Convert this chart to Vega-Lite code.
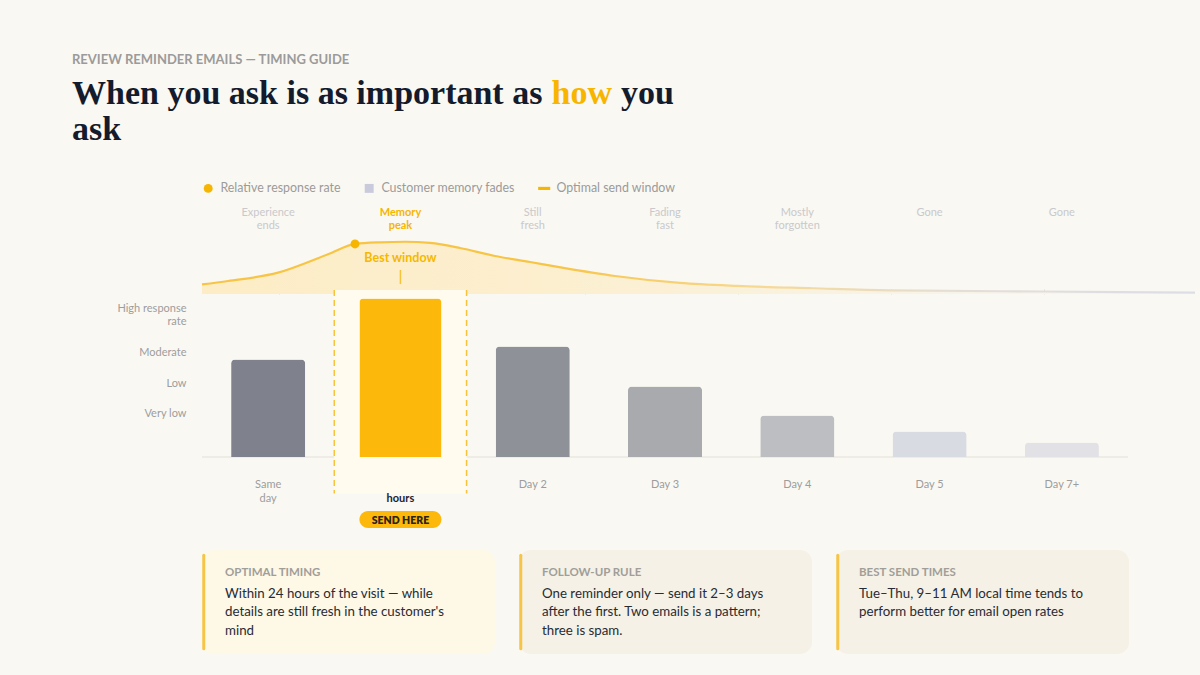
{
  "$schema": "https://vega.github.io/schema/vega-lite/v6.json",
  "background": "#faf8f2",
  "padding": {"left": 72, "top": 54, "right": 0, "bottom": 22},
  "title": {"text": "REVIEW REMINDER EMAILS — TIMING GUIDE", "anchor": "start", "frame": "bounds", "font": "Lato", "fontSize": 13, "fontWeight": 700, "color": "#9b9b9b", "offset": 10},
  "resolve": {"legend": {"color": "independent", "shape": "independent"}},
  "datasets": {
    "days": [
      {"day": "Same day", "stage": "Experience ends", "rate": 61},
      {"day": "24 hours", "stage": "Memory peak", "rate": 99},
      {"day": "Day 2", "stage": "Still fresh", "rate": 69},
      {"day": "Day 3", "stage": "Fading fast", "rate": 44},
      {"day": "Day 4", "stage": "Mostly forgotten", "rate": 26},
      {"day": "Day 5", "stage": "Gone", "rate": 16},
      {"day": "Day 7+", "stage": "Gone", "rate": 9}
    ],
    "memory": [
      {"t": 0.0, "memory": 18.3},
      {"t": 0.17, "memory": 25.0},
      {"t": 0.497, "memory": 41.0},
      {"t": 0.824, "memory": 76.3},
      {"t": 1.0, "memory": 96.2, "peak": true},
      {"t": 1.163, "memory": 99.4},
      {"t": 1.327, "memory": 100.4},
      {"t": 1.49, "memory": 98.1},
      {"t": 1.686, "memory": 88.5},
      {"t": 1.915, "memory": 73.1},
      {"t": 2.144, "memory": 61.5},
      {"t": 2.353, "memory": 50.6},
      {"t": 2.699, "memory": 34.6},
      {"t": 3.124, "memory": 21.2},
      {"t": 3.497, "memory": 15.4},
      {"t": 3.993, "memory": 11.0},
      {"t": 4.497, "memory": 7.1},
      {"t": 5.497, "memory": 4.8},
      {"t": 6.49, "memory": 2.5}
    ],
    "series": []
  },
  "spacing": 24,
  "vconcat": [
    {
      "spacing": 8.5,
      "hconcat": [
        {"width": 1, "height": 11, "title": {"text": "When you ask is as important as", "subtitle": "ask", "anchor": "start", "frame": "group", "dx": -130, "offset": 0, "font": "Liberation Serif", "fontSize": 34, "fontWeight": 700, "color": "#131b2d", "subtitleFont": "Liberation Serif", "subtitleFontSize": 34, "subtitleFontWeight": 700, "subtitleColor": "#131b2d", "subtitlePadding": 2}, "data": {"values": []}, "mark": "rule", "encoding": {}},
        {"width": 1, "height": 11, "title": {"text": "how", "subtitle": " ", "anchor": "start", "frame": "group", "offset": 0, "font": "Liberation Serif", "fontSize": 34, "fontWeight": 700, "color": "#f7b500", "subtitleFont": "Liberation Serif", "subtitleFontSize": 34, "subtitleFontWeight": 700, "subtitleColor": "#131b2d", "subtitlePadding": 2}, "data": {"values": []}, "mark": "rule", "encoding": {}},
        {"width": 1, "height": 11, "title": {"text": "you", "subtitle": " ", "anchor": "start", "frame": "group", "offset": 0, "font": "Liberation Serif", "fontSize": 34, "fontWeight": 700, "color": "#131b2d", "subtitleFont": "Liberation Serif", "subtitleFontSize": 34, "subtitleFontWeight": 700, "subtitleColor": "#131b2d", "subtitlePadding": 2}, "data": {"values": []}, "mark": "rule", "encoding": {}}
      ]
    },
    {
      "spacing": 21,
      "vconcat": [
        {
          "width": 926,
          "height": 256,
          "resolve": {"scale": {"x": "independent", "y": "independent"}},
          "layer": [
            {
              "data": {"name": "memory"},
              "encoding": {
                "x": {"field": "t", "type": "quantitative", "scale": {"domain": [0, 6.052], "nice": false, "zero": false}, "axis": {"orient": "top", "offset": -93, "values": [0.5, 1.5, 2.5, 3.5, 4.5, 5.5, 6.5], "labels": false, "domain": false, "ticks": true, "tickSize": 5, "tickColor": "#e6dfcc", "grid": false, "title": null}},
                "y": {"field": "memory", "type": "quantitative", "scale": {"domain": [-313.5, 178.8], "nice": false, "zero": false}, "axis": null}
              },
              "layer": [
                {"mark": {"type": "area", "interpolate": "monotone", "color": {"x1": 0, "y1": 0, "x2": 1, "y2": 0, "gradient": "linear", "stops": [{"offset": 0, "color": "#fcedc6"}, {"offset": 0.35, "color": "#fcefcf"}, {"offset": 0.7, "color": "#f9f3e5"}, {"offset": 1, "color": "#f8f6f1"}]}}, "encoding": {"y2": {"datum": 0}}},
                {"mark": {"type": "line", "interpolate": "monotone", "strokeWidth": 2.2, "stroke": {"x1": 0, "y1": 0, "x2": 1, "y2": 0, "gradient": "linear", "stops": [{"offset": 0, "color": "#f8c445"}, {"offset": 0.35, "color": "#f7c444"}, {"offset": 0.55, "color": "#f7d88f"}, {"offset": 0.75, "color": "#e4ded6"}, {"offset": 1, "color": "#dddde8"}]}}},
                {"transform": [{"filter": "datum.peak === true"}], "mark": {"type": "point", "filled": true, "size": 80, "color": "#f6b500", "opacity": 1}}
              ]
            },
            {
              "data": {"name": "days"},
              "layer": [
                {"data": {"values": [{}]}, "mark": {"type": "rule", "color": "#e3e0d8", "strokeWidth": 1}, "encoding": {"y": {"datum": 0}}},
                {"transform": [{"filter": "datum.day == '24 hours'"}], "mark": {"type": "rect", "color": "#fffbee"},
                 "encoding": {"x": {"field": "day", "type": "nominal", "scale": {"type": "band", "domain": ["Same day", "24 hours", "Day 2", "Day 3", "Day 4", "Day 5", "Day 7+"], "paddingInner": 0, "paddingOuter": 0}}, "y": {"datum": 104.4}, "y2": {"datum": -22.8}}},
                {"transform": [{"filter": "datum.day == '24 hours'"}], "mark": {"type": "rule", "color": "#f6c33a", "strokeWidth": 1.5, "strokeDash": [6, 4]},
                 "encoding": {"x": {"field": "day", "type": "nominal", "bandPosition": 0}, "y": {"datum": 104.4}, "y2": {"datum": -22.8}}},
                {"transform": [{"filter": "datum.day == '24 hours'"}], "mark": {"type": "rule", "color": "#f6c33a", "strokeWidth": 1.5, "strokeDash": [6, 4]},
                 "encoding": {"x": {"field": "day", "type": "nominal", "bandPosition": 1}, "y": {"datum": 104.4}, "y2": {"datum": -22.8}}},
                {"transform": [{"filter": "datum.day != '24 hours'"}], "mark": {"type": "bar", "width": {"band": 0.56}, "cornerRadiusTopLeft": 4, "cornerRadiusTopRight": 4},
                 "encoding": {
                   "x": {"field": "day", "type": "nominal", "scale": {"type": "band", "domain": ["Same day", "24 hours", "Day 2", "Day 3", "Day 4", "Day 5", "Day 7+"], "paddingInner": 0, "paddingOuter": 0},
                         "axis": {"orient": "bottom", "title": null, "ticks": false, "tickSize": 0, "domain": false, "grid": false, "labelAngle": 0, "labelAlign": "center", "labelPadding": 21, "labelFont": "Lato", "labelFontSize": 11, "labelLineHeight": 14, "labelBaseline": "top",
                                  "labelColor": {"condition": {"test": "datum.value == '24 hours'", "value": "#1b2233"}, "value": "#9d9d9d"},
                                  "labelFontWeight": {"condition": {"test": "datum.value == '24 hours'", "value": 700}, "value": 400},
                                  "labelExpr": "datum.value == 'Same day' ? ['Same', 'day'] : datum.value == '24 hours' ? ['', 'hours'] : datum.label"}},
                   "y": {"field": "rate", "type": "quantitative", "scale": {"domain": [0, 160], "nice": false, "zero": true},
                         "axis": {"values": [27, 46, 65.5, 93], "labelExpr": "datum.value > 80 ? ['High response', 'rate'] : datum.value > 60 ? 'Moderate' : datum.value > 40 ? 'Low' : 'Very low'", "title": "\u00a0", "titleColor": "transparent", "titleFontSize": 11, "titlePadding": 9, "minExtent": 110, "maxExtent": 110, "grid": false, "ticks": false, "tickSize": 0, "domain": false, "labelPadding": 16, "labelFont": "Lato", "labelFontSize": 11, "labelColor": "#9d9d9d", "labelLineHeight": 13}},
                   "fill": {"field": "day", "type": "nominal", "scale": {"domain": ["Same day", "24 hours", "Day 2", "Day 3", "Day 4", "Day 5", "Day 7+"], "range": ["#7f818d", "#fdb90b", "#8f9199", "#a9aaae", "#bdbec2", "#d9dbe3", "#e2e2e6"]}, "legend": null}
                 }},
                {"transform": [{"filter": "datum.day == '24 hours'"}], "mark": {"type": "bar", "width": {"band": 0.62}, "cornerRadiusTopLeft": 4, "cornerRadiusTopRight": 4},
                 "encoding": {"x": {"field": "day", "type": "nominal"}, "y": {"field": "rate", "type": "quantitative"}, "fill": {"field": "day", "type": "nominal", "legend": null}}},
                {"transform": [{"filter": "datum.day == '24 hours'"}], "mark": {"type": "bar", "width": {"band": 0.62}, "cornerRadius": 8.5, "color": "#fdb90b"},
                 "encoding": {"x": {"field": "day", "type": "nominal"}, "y": {"datum": -33.75}, "y2": {"datum": -44.4}}},
                {"transform": [{"filter": "datum.day == '24 hours'"}], "mark": {"type": "text", "text": "SEND HERE", "font": "Lato", "fontSize": 10.5, "fontWeight": 800, "color": "#2a2418", "baseline": "middle", "align": "center"},
                 "encoding": {"x": {"field": "day", "type": "nominal"}, "y": {"datum": -39.7}}},
                {"transform": [{"filter": "datum.day != '24 hours'"}], "mark": {"type": "text", "font": "Lato", "fontSize": 11, "color": "#c9c9cc", "baseline": "top", "align": "center", "lineBreak": " ", "lineHeight": 13},
                 "encoding": {"x": {"field": "day", "type": "nominal"}, "y": {"datum": 156.5}, "text": {"field": "stage"}}},
                {"transform": [{"filter": "datum.day == '24 hours'"}], "mark": {"type": "text", "font": "Lato", "fontSize": 11, "fontWeight": 700, "color": "#f6b500", "baseline": "top", "align": "center", "lineBreak": " ", "lineHeight": 13},
                 "encoding": {"x": {"field": "day", "type": "nominal"}, "y": {"datum": 156.5}, "text": {"field": "stage"}}},
                {"transform": [{"filter": "datum.day == '24 hours'"}], "mark": {"type": "text", "text": "Best window", "font": "Lato", "fontSize": 12.5, "fontWeight": 700, "color": "#f6b800", "baseline": "middle", "align": "center"},
                 "encoding": {"x": {"field": "day", "type": "nominal"}, "y": {"datum": 124.1}}},
                {"transform": [{"filter": "datum.day == '24 hours'"}], "mark": {"type": "rule", "color": "#f6c33a", "strokeWidth": 1.5},
                 "encoding": {"x": {"field": "day", "type": "nominal"}, "y": {"datum": 116.9}, "y2": {"datum": 108.1}}},
                {"data": {"name": "series"}, "mark": {"type": "point", "filled": true, "opacity": 1},
                 "encoding": {
                   "color": {"field": "series", "type": "nominal", "scale": {"domain": ["Relative response rate", "Customer memory fades", "Optimal send window"], "range": ["#f6b500", "#c9cbdc", "#f6b500"]}, "legend": {"title": null}},
                   "shape": {"field": "series", "type": "nominal", "scale": {"domain": ["Relative response rate", "Customer memory fades", "Optimal send window"], "range": ["circle", "square", "M-1.35,-0.35H1.35V0.35H-1.35Z"]}, "legend": {"title": null}}
                 }}
              ]
            }
          ]
        },
        {
          "spacing": 24,
          "hconcat": [
            {"width": 293, "height": 104, "view": {"fill": "#fef8e7", "cornerRadius": 12, "stroke": null},
             "title": {"text": "OPTIMAL TIMING", "subtitle": ["Within 24 hours of the visit — while", "details are still fresh in the customer's", "mind"], "anchor": "start", "frame": "group", "dx": 23, "offset": -87, "font": "Lato", "fontSize": 11.5, "fontWeight": 700, "color": "#a09e99", "subtitleFont": "Lato", "subtitleFontSize": 13.3, "subtitleColor": "#272b34", "subtitleLineHeight": 18.5, "subtitlePadding": 8},
             "data": {"values": [{}]},
             "mark": {"type": "rule", "color": "#f6c548", "strokeWidth": 3, "strokeCap": "round"},
             "encoding": {"x": {"datum": 0.006, "type": "quantitative", "scale": {"domain": [0, 1]}, "axis": null}, "y": {"datum": 0.05, "type": "quantitative", "scale": {"domain": [0, 1]}, "axis": null}, "y2": {"datum": 0.95}}},
            {"width": 293, "height": 104, "view": {"fill": "#f5f1e6", "cornerRadius": 12, "stroke": null},
             "title": {"text": "FOLLOW-UP RULE", "subtitle": ["One reminder only — send it 2–3 days", "after the first. Two emails is a pattern;", "three is spam."], "anchor": "start", "frame": "group", "dx": 23, "offset": -87, "font": "Lato", "fontSize": 11.5, "fontWeight": 700, "color": "#a09e99", "subtitleFont": "Lato", "subtitleFontSize": 13.3, "subtitleColor": "#272b34", "subtitleLineHeight": 18.5, "subtitlePadding": 8},
             "data": {"values": [{}]},
             "mark": {"type": "rule", "color": "#f6c548", "strokeWidth": 3, "strokeCap": "round"},
             "encoding": {"x": {"datum": 0.006, "type": "quantitative", "scale": {"domain": [0, 1]}, "axis": null}, "y": {"datum": 0.05, "type": "quantitative", "scale": {"domain": [0, 1]}, "axis": null}, "y2": {"datum": 0.95}}},
            {"width": 293, "height": 104, "view": {"fill": "#f5f1e6", "cornerRadius": 12, "stroke": null},
             "title": {"text": "BEST SEND TIMES", "subtitle": ["Tue–Thu, 9–11 AM local time tends to", "perform better for email open rates", " "], "anchor": "start", "frame": "group", "dx": 23, "offset": -87, "font": "Lato", "fontSize": 11.5, "fontWeight": 700, "color": "#a09e99", "subtitleFont": "Lato", "subtitleFontSize": 13.3, "subtitleColor": "#272b34", "subtitleLineHeight": 18.5, "subtitlePadding": 8},
             "data": {"values": [{}]},
             "mark": {"type": "rule", "color": "#f6c548", "strokeWidth": 3, "strokeCap": "round"},
             "encoding": {"x": {"datum": 0.006, "type": "quantitative", "scale": {"domain": [0, 1]}, "axis": null}, "y": {"datum": 0.05, "type": "quantitative", "scale": {"domain": [0, 1]}, "axis": null}, "y2": {"datum": 0.95}}}
          ]
        }
      ]
    }
  ],
  "config": {
    "view": {"stroke": null},
    "font": "Lato",
    "legend": {"orient": "top", "direction": "horizontal", "labelFont": "Lato", "labelFontSize": 12.4, "labelColor": "#9b9b9b", "symbolSize": 80, "labelOffset": 6, "columnPadding": 22, "offset": 6, "symbolStrokeWidth": 0, "symbolOpacity": 1}
  }
}
